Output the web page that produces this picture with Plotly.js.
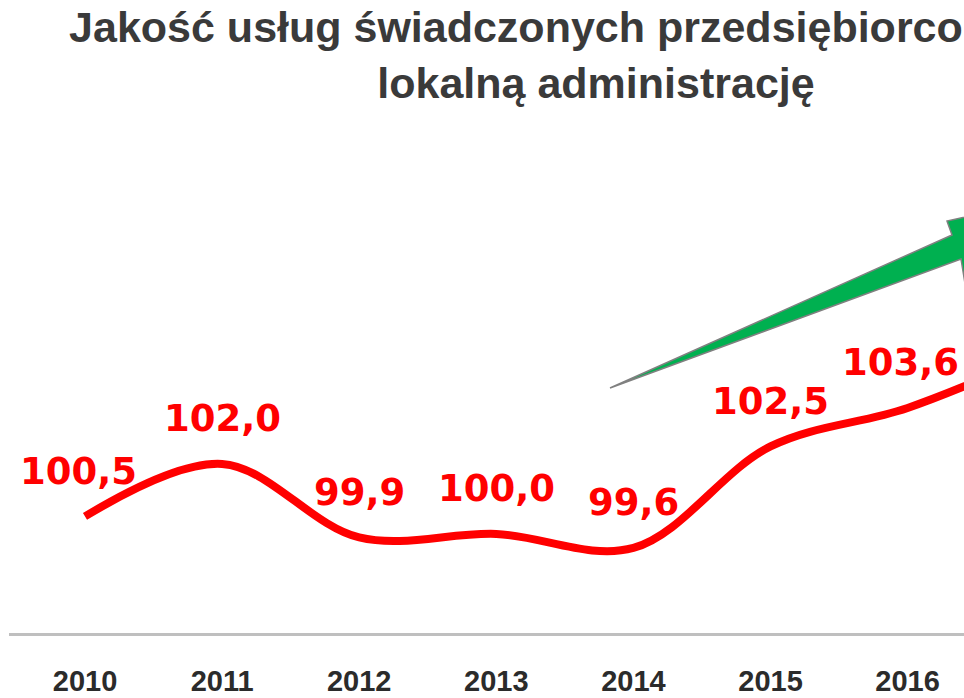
<!DOCTYPE html>
<html>
<head>
<meta charset="utf-8">
<script src="https://cdn.plot.ly/plotly-3.0.1.min.js"></script>
<style>html,body{margin:0;padding:0;background:#fff;}#chart{width:964px;height:698px;}</style>
</head>
<body>
<div id="chart"></div>
<script>
// Data
const years = ['2010', '2011', '2012', '2013', '2014', '2015', '2016', '2017'];
const values = [100.5, 102.0, 99.9, 100.0, 99.6, 102.5, 103.6, 105.2];
const labelledCount = 7; // the 2017 point lies beyond the visible frame
const titleText = 'Jakość usług świadczonych przedsiębiorcom przez<br>lokalną administrację';

const W = 964, H = 698;
const M = {l: 9, r: 0, t: 130, b: 65};
const plotW = W - M.l - M.r, plotH = H - M.t - M.b;
// convert pixel positions (decoration only) into paper coordinates
const px = x => (x - M.l) / plotW;
const py = y => (H - M.b - y) / plotH;

const idx = years.map((_, i) => i);

const trace = {
  x: idx,
  y: values,
  type: 'scatter',
  mode: 'lines',
  line: {color: '#ff0000', width: 8, shape: 'spline', smoothing: 1},
  hoverinfo: 'skip',
  cliponaxis: true
};

const annotations = values.slice(0, labelledCount).map((v, i) => ({
  x: i, y: v, xref: 'x', yref: 'y',
  text: v.toFixed(1).replace('.', ','),
  showarrow: false,
  yshift: 45,
  xshift: (i === 0 || i === labelledCount - 1) ? -7 : 0,
  xanchor: 'center', yanchor: 'middle',
  font: {family: 'DejaVu Sans, sans-serif', size: 37, color: '#ff0000', weight: 'bold'}
}));

// green trend arrow (decoration)
const pts = [[610,388],[952,235],[947,221],[1012,207],[968,302],[961,259]];
let path = 'M' + pts.map(p => px(p[0]).toFixed(5) + ',' + py(p[1]).toFixed(5)).join(' L') + ' Z';

const layout = {
  width: W, height: H,
  margin: M,
  paper_bgcolor: '#ffffff', plot_bgcolor: '#ffffff',
  showlegend: false,
  title: {
    text: titleText,
    x: 596 / W, xref: 'container', xanchor: 'center',
    y: 1 - 42 / H, yref: 'container', yanchor: 'top',
    font: {family: 'Liberation Sans, Arial, sans-serif', size: 43, color: '#3a3a3a', weight: 'bold'}
  },
  xaxis: {
    range: [(M.l - 85) / 137.1, (W - 85) / 137.1],
    tickmode: 'array', tickvals: idx, ticktext: years,
    showgrid: false, zeroline: false,
    showline: true, linecolor: '#bfbfbf', linewidth: 3,
    ticks: '', ticklabelstandoff: 20,
    tickfont: {family: 'Liberation Sans, Arial, sans-serif', size: 29, color: '#2b2b2b', weight: 'bold'},
    fixedrange: true
  },
  yaxis: {
    range: [97.17, 111.54],
    visible: false, showgrid: false, zeroline: false, fixedrange: true
  },
  shapes: [{
    type: 'path', xref: 'paper', yref: 'paper', path: path,
    fillcolor: '#00b050', line: {color: '#808080', width: 1.5}, layer: 'above'
  }],
  annotations: annotations
};

Plotly.newPlot('chart', [trace], layout, {displayModeBar: false, staticPlot: true});
</script>
</body>
</html>
